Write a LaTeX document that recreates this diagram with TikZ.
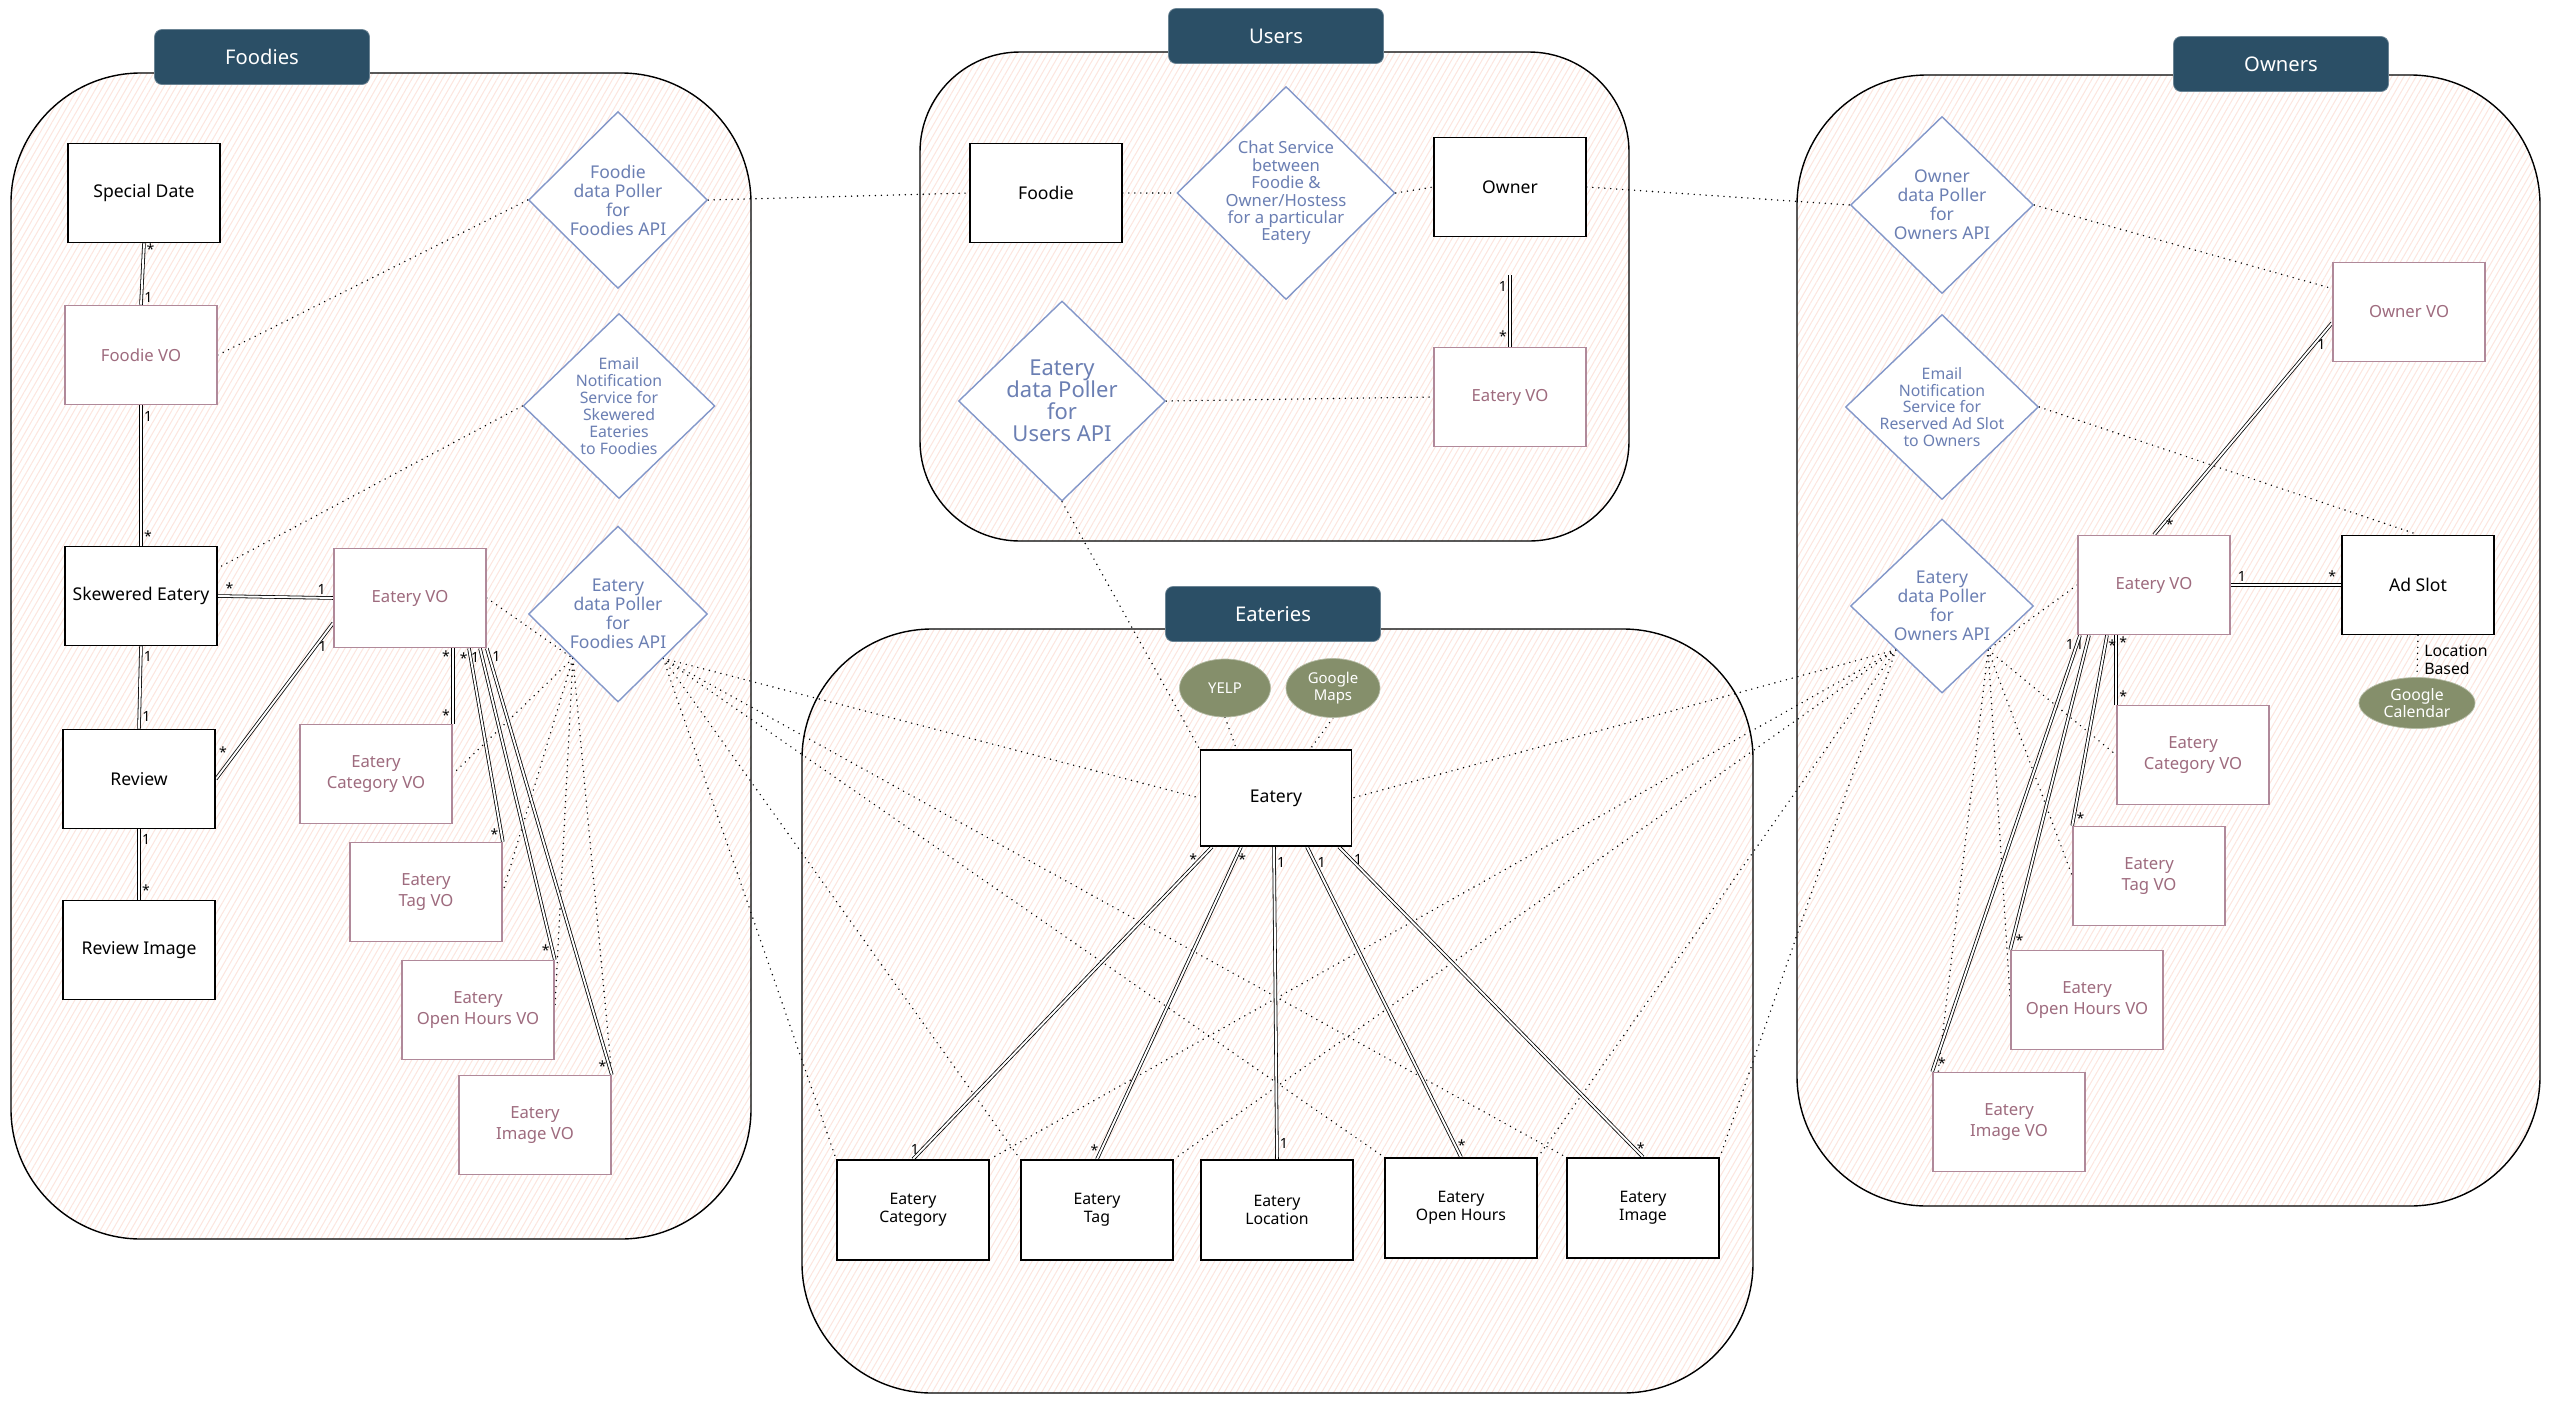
\documentclass[tikz,border=0pt]{standalone}
\usepackage{fontspec}
\setmainfont{Noto Sans}
\usetikzlibrary{shapes}
\usetikzlibrary{calc,backgrounds,patterns.meta}
\definecolor{tabblue}{HTML}{2B4F66}
\definecolor{voline}{HTML}{B0899A}
\definecolor{votext}{HTML}{9E6B7E}
\definecolor{svcline}{HTML}{8397C9}
\definecolor{svctext}{HTML}{6B7FB3}
\definecolor{extgreen}{HTML}{858F6B}
\definecolor{hatch}{HTML}{FCE6DF}
\tikzset{
	ent_box/.style = {draw=black, line width=1pt, fill=white, align=center,
		inner sep=2pt, minimum width=30.4mm, minimum height=19.8mm,
		font=\fontsize{10}{12}\selectfont},% entite
	ent_vo/.style = {ent_box, draw=voline, line width=0.9pt, text=votext,
		font=\fontsize{9.5}{11.5}\selectfont},% value object
	ent_eat/.style = {ent_box, minimum height=20mm,
		font=\fontsize{9}{10.5}\selectfont},% entite du bas
	svc/.style = {diamond, draw=svcline, line width=0.8pt, fill=white,
		inner sep=0pt},% service, poller
	svc_txt/.style = {text=svctext, align=center, inner sep=0pt,
		font=\fontsize{10}{10.8}\selectfont},
	grp/.style = {draw=black, line width=0.8pt, rounded corners=26mm,
		pattern={Lines[angle=60,distance=3pt,line width=0.6pt]},
		pattern color=hatch},% cadre de groupe
	grp_tab/.style = {draw=tabblue!70!white, fill=tabblue, rounded corners=1.5mm,
		text=white, minimum width=43mm, minimum height=11mm,
		font=\fontsize{11.5}{12}\selectfont},
	ext/.style = {ellipse, draw=extgreen!60!white, fill=extgreen, text=white,
		align=center, inner sep=0pt, font=\fontsize{8.5}{9.5}\selectfont},% service externe
	rel/.style = {double=white, double distance=1.1pt, line width=0.45pt},
	assoc/.style = {line width=0.9pt, line cap=round, dash pattern=on 0pt off 3.4pt},
	card/.style = {inner sep=1.5pt, font=\fontsize{8}{8}\selectfont}
}
\begin{document}
\begin{tikzpicture}[x=0.2mm, y=-0.2mm]
	\useasboundingbox (0,0) rectangle (2550,1404);
	
	% Foodies
	\node[ent_box] (sdate) at (144,193) {Special Date};
	\node[ent_vo] (fvo) at (141,355) {Foodie VO};
	\node[ent_box] (skew) at (141,596) {Skewered Eatery};
	\node[ent_box] (review) at (139,779) {Review};
	\node[ent_box] (rimg) at (139,950) {Review Image};
	\node[ent_vo] (fevo) at (410,598) {Eatery VO};
	\node[ent_vo] (fcat) at (376,774) {Eatery\\Category VO};
	\node[ent_vo] (ftag) at (426,892) {Eatery\\Tag VO};
	\node[ent_vo] (fopen) at (478,1010) {Eatery\\Open Hours VO};
	\node[ent_vo] (fimg) at (535,1125) {Eatery\\Image VO};
	\node[svc, minimum width=35.8mm, minimum height=35.4mm] (fpoll) at (618,200) {};
	\node[svc_txt] (fpoll_t) at (fpoll) {Foodie\\data Poller\\for\\Foodies API};
	\node[svc, minimum width=38.4mm, minimum height=37mm] (fmail) at (619,406) {};
	\node[svc_txt, font=\fontsize{9}{9.6}\selectfont] (fmail_t) at (fmail)
		{Email\\Notification\\Service for\\Skewered\\Eateries\\to Foodies};
	\node[svc, minimum width=35.8mm, minimum height=35.2mm] (fepoll) at (618,614) {};
	\node[svc_txt] (fepoll_t) at (fepoll) {Eatery\\data Poller\\for\\Foodies API};
	
	% Users
	\node[ent_box] (ufoodie) at (1046,193) {Foodie};
	\node[ent_box] (owner) at (1510,187) {Owner};
	\node[svc, minimum width=43.6mm, minimum height=42.6mm] (chat) at (1286,193) {};
	\node[svc_txt, font=\fontsize{9.5}{9.9}\selectfont] (chat_t) at (chat)
		{Chat Service\\between\\Foodie \&\\Owner/Hostess\\for a particular\\Eatery};
	\node[svc, minimum width=41.4mm, minimum height=40mm] (upoll) at (1062,401) {};
	\node[svc_txt, font=\fontsize{12.5}{12.5}\selectfont] (upoll_t) at (upoll)
		{Eatery\\data Poller\\for\\Users API};
	\node[ent_vo] (uevo) at (1510,397) {Eatery VO};
	
	% Eateries
	\node[ext, minimum width=18.2mm, minimum height=11.6mm] (yelp) at (1225,688) {YELP};
	\node[ext, minimum width=18.8mm, minimum height=11.8mm] (gmaps) at (1333,688) {Google\\Maps};
	\node[ent_box, minimum width=30.2mm, minimum height=19.2mm] (eat) at (1276,798) {Eatery};
	\node[ent_eat] (ecat) at (913,1210) {Eatery\\Category};
	\node[ent_eat] (etag) at (1097,1210) {Eatery\\Tag};
	\node[ent_eat] (eloc) at (1277,1210) {Eatery\\Location};
	\node[ent_eat] (eopen) at (1461,1208) {Eatery\\Open Hours};
	\node[ent_eat] (eimg) at (1643,1208) {Eatery\\Image};
	
	% Owners
	\node[svc, minimum width=36.6mm, minimum height=35.4mm] (opoll) at (1942,205) {};
	\node[svc_txt] (opoll_t) at (opoll) {Owner\\data Poller\\for\\Owners API};
	\node[svc, minimum width=38.6mm, minimum height=37mm] (omail) at (1942,407) {};
	\node[svc_txt, font=\fontsize{9}{9.6}\selectfont] (omail_t) at (omail)
		{Email\\Notification\\Service for\\Reserved Ad Slot\\to Owners};
	\node[svc, minimum width=36.6mm, minimum height=34.8mm] (oepoll) at (1942,606) {};
	\node[svc_txt] (oepoll_t) at (oepoll) {Eatery\\data Poller\\for\\Owners API};
	\node[ent_vo] (ovo) at (2409,312) {Owner VO};
	\node[ent_vo] (oevo) at (2154,585) {Eatery VO};
	\node[ent_box] (adslot) at (2418,585) {Ad Slot};
	\node[ext, minimum width=23.2mm, minimum height=10.2mm,
		font=\fontsize{9}{10}\selectfont] (gcal) at (2417,703) {Google\\Calendar};
	\node[align=left, inner sep=0pt, font=\fontsize{9}{10}\selectfont] (locb) at (2456,660) {Location\\Based};
	\node[ent_vo] (ocat) at (2193,755) {Eatery\\Category VO};
	\node[ent_vo] (otag) at (2149,876) {Eatery\\Tag VO};
	\node[ent_vo] (oopen) at (2087,1000) {Eatery\\Open Hours VO};
	\node[ent_vo] (oimg) at (2009,1122) {Eatery\\Image VO};
	
	% group titles
	\node[grp_tab] (tfood) at (262,57) {Foodies};
	\node[grp_tab] (tusers) at (1276,36) {Users};
	\node[grp_tab] (teat) at (1273,614) {Eateries};
	\node[grp_tab] (town) at (2281,64) {Owners};
	
	\begin{scope}[on background layer]
		\node[grp, minimum width=148mm, minimum height=233.2mm] (gfood) at (381,656) {};
		\node[grp, rounded corners=20mm, minimum width=141.8mm, minimum height=97.8mm] (gusers) at (1274.5,296.5) {};
		\node[grp, minimum width=190.2mm, minimum height=152.8mm] (geat) at (1277.5,1011) {};
		\node[grp, minimum width=148.6mm, minimum height=226.2mm] (gown) at (2168.5,640.5) {};
		
		% pollers and services
		\draw[assoc] (fvo.east) -- (fpoll.west);
		\draw[assoc] (fpoll.east) -- (ufoodie.west);
		\draw[assoc] (ufoodie.east) -- (chat.west);
		\draw[assoc] (chat.east) -- (owner.west);
		\draw[assoc] (owner.east) -- (opoll.west);
		\draw[assoc] (opoll.east) -- (ovo.163);
		\draw[assoc] (fmail.west) -- (skew.20);
		\draw[assoc] (omail.east) -- (adslot.north);
		\draw[assoc] (upoll.east) -- (uevo.west);
		\draw[assoc] (upoll.south) -- (eat.north west);
		\draw[assoc] (yelp.south) -- (eat.129);
		\draw[assoc] (gmaps.south) -- (eat.55);
		\draw[assoc] (adslot.south) -- (gcal.north);
		
		\draw[assoc] (fevo.east) -- (fepoll.south west);
		\draw[assoc] (fepoll.south west) -- (fcat.east);
		\draw[assoc] (fepoll.south west) -- (ftag.east);
		\draw[assoc] (fepoll.south west) -- (fopen.east);
		\draw[assoc] (fepoll.south west) -- (fimg.north east);
		\draw[assoc] (fepoll.south east) -- (eat.west);
		\draw[assoc] (fepoll.south east) -- (ecat.north west);
		\draw[assoc] (fepoll.south east) -- (etag.north west);
		\draw[assoc] (fepoll.south east) -- (eopen.north west);
		\draw[assoc] (fepoll.south east) -- (eimg.north west);
		
		\draw[assoc] (oepoll.south west) -- (eat.east);
		\draw[assoc] (oepoll.south west) -- (ecat.north east);
		\draw[assoc] (oepoll.south west) -- (etag.north east);
		\draw[assoc] (oepoll.south west) -- (eopen.north east);
		\draw[assoc] (oepoll.south west) -- (eimg.north east);
		\draw[assoc] (oevo.west) -- (oepoll.south east);
		\draw[assoc] (oepoll.south east) -- (ocat.west);
		\draw[assoc] (oepoll.south east) -- (otag.west);
		\draw[assoc] (oepoll.south east) -- (oopen.west);
		\draw[assoc] (oepoll.south east) -- (oimg.west);
		
		% relations Foodies
		\draw[rel] (sdate.south) -- (fvo.north)
			node[card, pos=0.1, right] (c1) {*} node[card, pos=0.88, right] (c2) {1};
		\draw[rel] (fvo.south) -- (skew.north)
			node[card, pos=0.08, right] (c3) {1} node[card, pos=0.93, right] (c4) {*};
		\draw[rel] (skew.east) -- (fevo.west)
			node[card, pos=0.1, above] (c5) {*} node[card, pos=0.9, above] (c6) {1};
		\draw[rel] (skew.south) -- (review.north)
			node[card, pos=0.12, right] (c7) {1} node[card, pos=0.85, right] (c8) {1};
		\draw[rel] (review.east) -- (fevo.198)
			node[card, pos=0.12, above left] (c9) {*} node[card, pos=0.85, right] (c10) {1};
		\draw[rel] (review.south) -- (rimg.north)
			node[card, pos=0.15, right] (c11) {1} node[card, pos=0.86, right] (c12) {*};
		\draw[rel] (fevo.south -| fcat.north east) -- (fcat.north east)
			node[card, pos=0.1, left] (c13) {*} node[card, pos=0.88, left] (c14) {*};
		\draw[rel] ($(fevo.south)+(59,0)$) -- (ftag.north east)
			node[card, pos=0.05, left] (c15) {*} node[card, pos=0.96, left] (c16) {*};
		\draw[rel] ($(fevo.south)+(70,0)$) -- (fopen.north east)
			node[card, pos=0.03, left] (c17) {1} node[card, pos=0.97, left] (c18) {*};
		\draw[rel] (fevo.south east) -- (fimg.north east)
			node[card, pos=0.02, right] (c19) {1} node[card, pos=0.98, left] (c20) {*};
		
		% relations Users
		\draw[rel] ($(owner.south)+(0,38)$) -- (uevo.north)
			node[card, pos=0.15, left] (c21) {1} node[card, pos=0.85, left] (c22) {*};
		
		% relations Eateries
		\draw[rel] ($(eat.south)+(-64,0)$) -- (ecat.north)
			node[card, pos=0.04, left] (c23) {*} node[card, pos=0.97, left] (c24) {1};
		\draw[rel] ($(eat.south)+(-35,0)$) -- (etag.north)
			node[card, pos=0.04, right] (c25) {*} node[card, pos=0.97, left] (c26) {*};
		\draw[rel] ($(eat.south)+(-2,0)$) -- (eloc.north)
			node[card, pos=0.05, right] (c27) {1} node[card, pos=0.95, right] (c28) {1};
		\draw[rel] ($(eat.south)+(31,0)$) -- (eopen.north)
			node[card, pos=0.05, right] (c29) {1} node[card, pos=0.96, right] (c30) {*};
		\draw[rel] ($(eat.south)+(63,0)$) -- (eimg.north)
			node[card, pos=0.04, right] (c31) {1} node[card, pos=0.97, right] (c32) {*};
		
		% relations Owners
		\draw[rel] (ovo.188) -- (oevo.north)
			node[card, pos=0.1, right] (c33) {1} node[card, pos=0.95, right] (c34) {*};
		\draw[rel] (oevo.east) -- (adslot.west)
			node[card, pos=0.1, above] (c35) {1} node[card, pos=0.92, above] (c36) {*};
		\draw[rel] (oevo.south -| ocat.north west) -- (ocat.north west)
			node[card, pos=0.1, right] (c37) {*} node[card, pos=0.88, right] (c38) {*};
		\draw[rel] ($(oevo.south)+(-47,0)$) -- (otag.north west)
			node[card, pos=0.05, right] (c39) {*} node[card, pos=0.96, right] (c40) {*};
		\draw[rel] ($(oevo.south)+(-65,0)$) -- (oopen.north west)
			node[card, pos=0.03, left] (c41) {1} node[card, pos=0.97, right] (c42) {*};
		\draw[rel] ($(oevo.south)+(-74,0)$) -- (oimg.north west)
			node[card, pos=0.02, left] (c43) {1} node[card, pos=0.98, right] (c44) {*};
	\end{scope}
\end{tikzpicture}
\end{document}
